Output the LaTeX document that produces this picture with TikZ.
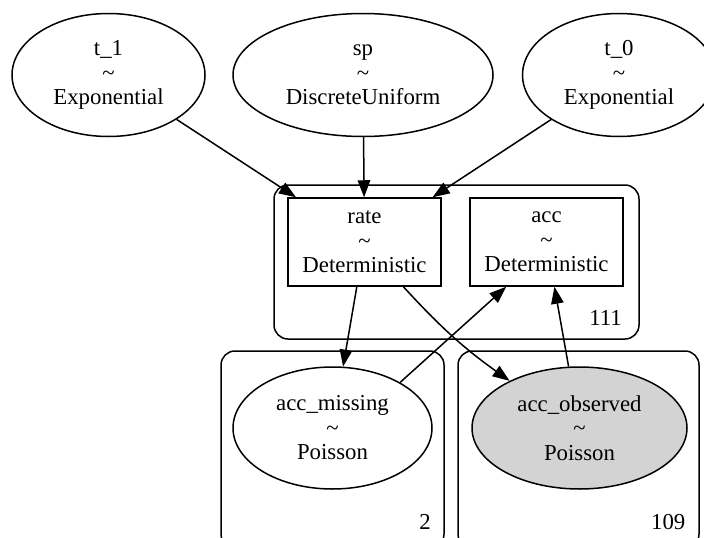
\documentclass[tikz,border=0pt]{standalone}
\usepackage{fontspec}
\setmainfont{Liberation Serif}
\usetikzlibrary{shapes.geometric,arrows.meta}
\begin{document}
\begin{tikzpicture}[x=1pt,y=-1pt,
  lw/.style={line width=1.5pt},
  txt/.style={align=center,font=\fontsize{22.8}{24.5}\selectfont,inner sep=0pt},
  rv/.style={ellipse,draw,lw,txt,minimum height=123pt},
  det/.style={rectangle,draw,lw,txt,minimum width=153pt,minimum height=88pt},
  plate/.style={rectangle,draw,lw,rounded corners=14pt,inner sep=0pt},
  platelabel/.style={font=\fontsize{22.8}{25}\selectfont,inner sep=0pt,anchor=base east},
  edge/.style={lw,-{Triangle[length=17pt,width=12.5pt]}}
]
\useasboundingbox (0,0) rectangle (704,538);
\clip (0,0) rectangle (704,538);
\fill[white] (0,0) rectangle (704,538);

% plates
\node[plate,minimum width=365pt,minimum height=154pt] (p111) at (456.5,262) {};
\node[plate,minimum width=223pt,minimum height=197pt] (p2) at (332.5,449.5) {};
\node[plate,minimum width=241pt,minimum height=197pt] (p109) at (578.5,449.5) {};
\node[platelabel] (l111) at (622,325) {111};
\node[platelabel] (l2) at (431,529.5) {2};
\node[platelabel] (l109) at (685.5,529.5) {109};

% variables
\node[rv,minimum width=193pt] (t1) at (108.5,75) {t\_1\\\textasciitilde\\Exponential};
\node[rv,minimum width=260pt] (sp) at (363,75) {sp\\\textasciitilde\\DiscreteUniform};
\node[rv,minimum width=193pt] (t0) at (619,75) {t\_0\\\textasciitilde\\Exponential};
\node[det] (rate) at (364.5,242) {rate\\\textasciitilde\\Deterministic};
\node[det] (acc) at (546.5,242) {acc\\\textasciitilde\\Deterministic};
\node[rv,minimum width=199pt,minimum height=122pt] (accmiss) at (332.5,428) {acc\_missing\\\textasciitilde\\Poisson};
\node[rv,minimum width=215pt,minimum height=122pt,fill={rgb,255:red,211;green,211;blue,211}] (accobs) at (579.5,428) {acc\_observed\\\textasciitilde\\Poisson};

% edges
\draw[edge] (t1) -- (rate);
\draw[edge] (sp) -- (rate);
\draw[edge] (t0) -- (rate);
\draw[edge] (rate) -- (accmiss);
\draw[edge] (rate.-49) to[bend right=6] (accobs.146);
\draw[edge] (accmiss.34.6) -- (acc.-132.6);
\draw[edge] (accobs) -- (acc);
\end{tikzpicture}
\end{document}
